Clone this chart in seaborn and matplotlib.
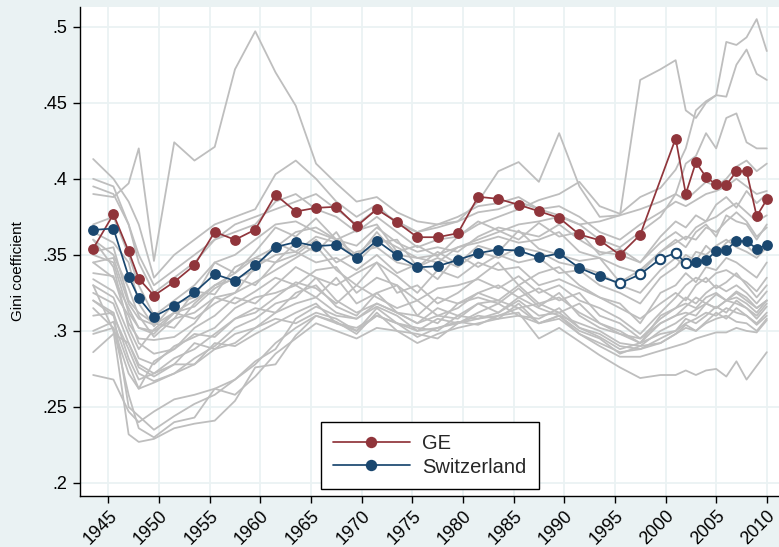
import numpy as np
import pandas as pd
import matplotlib
matplotlib.use("Agg")
import matplotlib.pyplot as plt
from matplotlib.lines import Line2D
import seaborn as sns

# Observation years (tax periods are plotted at their mid-points)
years = [1943.5, 1945.5, 1947, 1948, 1949.5, 1951.5, 1953.5, 1955.5, 1957.5, 1959.5,
         1961.5, 1963.5, 1965.5, 1967.5, 1969.5, 1971.5, 1973.5, 1975.5, 1977.5, 1979.5,
         1981.5, 1983.5, 1985.5, 1987.5, 1989.5, 1991.5, 1993.5, 1995.5, 1997.5, 1999.5,
         2001, 2002, 2003, 2004, 2005, 2006, 2007, 2008, 2009, 2010]

ge = [0.3541, 0.3767, 0.3524, 0.3344, 0.3232, 0.3322, 0.3432, 0.3651, 0.3599, 0.3666,
      0.3895, 0.3785, 0.3809, 0.3816, 0.3688, 0.3800, 0.3714, 0.3616, 0.3616, 0.3642,
      0.3882, 0.3868, 0.3829, 0.3787, 0.3743, 0.3634, 0.3596, 0.3500, 0.3632, None,
      0.4265, 0.3901, 0.4109, 0.4011, 0.3963, 0.3958, 0.4050, 0.4050, 0.3754, 0.3864]

switzerland = [0.3664, 0.3673, 0.3357, 0.3217, 0.3094, 0.3164, 0.3253, 0.3373, 0.3329, 0.3430,
               0.3551, 0.3584, 0.3557, 0.3566, 0.3480, 0.3594, 0.3497, 0.3418, 0.3425, 0.3467,
               0.3511, 0.3535, 0.3528, 0.3483, 0.3509, 0.3414, 0.3359, 0.3313, 0.3372, 0.3474,
               0.3513, 0.3445, 0.3451, 0.3465, 0.3524, 0.3535, 0.3590, 0.3590, 0.3541, 0.3563]

# Years where the national series is interpolated (hollow markers)
ch_interpolated = [1995.5, 1997.5, 1999.5, 2001, 2002]

# Other cantons
cantons = {
    "c01": [0.390, 0.388, 0.397, 0.420, 0.346, 0.424, 0.412, 0.421, 0.472, 0.497,
            0.470, 0.448, 0.410, 0.397, 0.385, 0.388, 0.378, 0.372, 0.370, 0.375,
            0.382, 0.384, 0.388, 0.380, 0.376, 0.370, 0.372, 0.376, 0.380, 0.385,
            0.390, 0.386, 0.392, 0.398, 0.395, 0.400, 0.408, 0.412, 0.405, 0.410],
    "c02": [0.413, 0.400, 0.385, 0.370, 0.335, 0.350, 0.360, 0.370, 0.375, 0.380,
            0.403, 0.412, 0.400, 0.385, 0.375, 0.383, 0.370, 0.365, 0.368, 0.372,
            0.385, 0.405, 0.411, 0.398, 0.430, 0.395, 0.375, 0.376, 0.465, 0.472,
            0.478, 0.445, 0.440, 0.450, 0.455, 0.490, 0.488, 0.493, 0.505, 0.484],
    "c03": [0.395, 0.390, 0.370, 0.345, 0.325, 0.335, 0.345, 0.360, 0.365, 0.370,
            0.385, 0.390, 0.380, 0.375, 0.365, 0.375, 0.365, 0.355, 0.360, 0.362,
            0.370, 0.375, 0.380, 0.386, 0.390, 0.398, 0.382, 0.377, 0.388, 0.394,
            0.406, 0.420, 0.445, 0.451, 0.455, 0.454, 0.475, 0.485, 0.469, 0.465],
    "c04": [0.370, 0.375, 0.350, 0.330, 0.310, 0.320, 0.330, 0.345, 0.350, 0.360,
            0.370, 0.372, 0.365, 0.360, 0.350, 0.362, 0.355, 0.348, 0.350, 0.355,
            0.360, 0.365, 0.370, 0.372, 0.375, 0.370, 0.360, 0.355, 0.365, 0.375,
            0.390, 0.410, 0.415, 0.430, 0.420, 0.440, 0.443, 0.424, 0.420, 0.420],
    "c05": [0.365, 0.358, 0.345, 0.318, 0.303, 0.318, 0.322, 0.345, 0.338, 0.352,
            0.368, 0.362, 0.374, 0.360, 0.366, 0.370, 0.352, 0.356, 0.349, 0.362,
            0.372, 0.366, 0.360, 0.371, 0.362, 0.365, 0.350, 0.354, 0.345, 0.362,
            0.372, 0.368, 0.376, 0.372, 0.383, 0.388, 0.381, 0.392, 0.384, 0.390],
    "c06": [0.360, 0.350, 0.328, 0.310, 0.296, 0.308, 0.326, 0.324, 0.342, 0.348,
            0.345, 0.358, 0.352, 0.365, 0.345, 0.358, 0.360, 0.342, 0.352, 0.344,
            0.356, 0.352, 0.366, 0.354, 0.350, 0.346, 0.348, 0.332, 0.340, 0.352,
            0.360, 0.355, 0.365, 0.370, 0.362, 0.376, 0.372, 0.370, 0.360, 0.370],
    "c07": [0.352, 0.355, 0.320, 0.312, 0.305, 0.302, 0.318, 0.330, 0.334, 0.340,
            0.358, 0.352, 0.345, 0.348, 0.340, 0.350, 0.338, 0.344, 0.334, 0.350,
            0.342, 0.350, 0.345, 0.348, 0.338, 0.340, 0.330, 0.325, 0.318, 0.335,
            0.342, 0.350, 0.346, 0.356, 0.350, 0.358, 0.362, 0.356, 0.350, 0.356],
    "c08": [0.345, 0.335, 0.315, 0.302, 0.298, 0.312, 0.308, 0.318, 0.325, 0.332,
            0.340, 0.348, 0.356, 0.340, 0.330, 0.345, 0.336, 0.325, 0.340, 0.335,
            0.345, 0.340, 0.342, 0.330, 0.334, 0.328, 0.322, 0.318, 0.305, 0.325,
            0.330, 0.338, 0.332, 0.342, 0.340, 0.348, 0.345, 0.340, 0.335, 0.345],
    "c09": [0.338, 0.336, 0.305, 0.295, 0.294, 0.296, 0.305, 0.322, 0.318, 0.326,
            0.335, 0.330, 0.340, 0.342, 0.325, 0.335, 0.330, 0.320, 0.328, 0.330,
            0.334, 0.328, 0.336, 0.325, 0.330, 0.320, 0.315, 0.308, 0.298, 0.312,
            0.322, 0.330, 0.335, 0.332, 0.338, 0.340, 0.336, 0.332, 0.326, 0.335],
    "c10": [0.334, 0.326, 0.310, 0.292, 0.285, 0.288, 0.302, 0.310, 0.322, 0.318,
            0.330, 0.342, 0.335, 0.330, 0.338, 0.345, 0.325, 0.330, 0.318, 0.325,
            0.335, 0.345, 0.330, 0.338, 0.342, 0.330, 0.322, 0.315, 0.308, 0.318,
            0.325, 0.320, 0.330, 0.335, 0.328, 0.332, 0.338, 0.330, 0.322, 0.330],
    "c11": [0.330, 0.322, 0.298, 0.282, 0.278, 0.290, 0.296, 0.302, 0.315, 0.322,
            0.325, 0.330, 0.322, 0.335, 0.318, 0.325, 0.330, 0.310, 0.322, 0.318,
            0.325, 0.330, 0.322, 0.328, 0.320, 0.325, 0.310, 0.305, 0.295, 0.308,
            0.315, 0.322, 0.318, 0.325, 0.330, 0.326, 0.330, 0.325, 0.318, 0.326],
    "c12": [0.325, 0.318, 0.292, 0.278, 0.272, 0.282, 0.288, 0.298, 0.308, 0.312,
            0.322, 0.332, 0.328, 0.318, 0.330, 0.322, 0.315, 0.320, 0.310, 0.315,
            0.325, 0.320, 0.330, 0.318, 0.312, 0.318, 0.305, 0.300, 0.292, 0.305,
            0.310, 0.316, 0.322, 0.318, 0.324, 0.320, 0.326, 0.322, 0.315, 0.320],
    "c13": [0.320, 0.310, 0.288, 0.272, 0.267, 0.272, 0.282, 0.290, 0.302, 0.308,
            0.318, 0.322, 0.335, 0.320, 0.312, 0.318, 0.312, 0.305, 0.315, 0.310,
            0.318, 0.312, 0.322, 0.315, 0.310, 0.305, 0.300, 0.292, 0.290, 0.300,
            0.305, 0.310, 0.314, 0.318, 0.315, 0.320, 0.318, 0.315, 0.310, 0.318],
    "c14": [0.310, 0.312, 0.282, 0.268, 0.272, 0.278, 0.292, 0.288, 0.298, 0.302,
            0.312, 0.318, 0.322, 0.312, 0.308, 0.316, 0.310, 0.300, 0.308, 0.305,
            0.312, 0.318, 0.310, 0.308, 0.315, 0.302, 0.298, 0.290, 0.288, 0.295,
            0.300, 0.305, 0.308, 0.312, 0.310, 0.315, 0.312, 0.310, 0.305, 0.312],
    "c15": [0.300, 0.306, 0.278, 0.262, 0.266, 0.272, 0.278, 0.292, 0.290, 0.298,
            0.305, 0.312, 0.318, 0.305, 0.302, 0.310, 0.305, 0.296, 0.302, 0.306,
            0.304, 0.310, 0.315, 0.305, 0.310, 0.300, 0.295, 0.285, 0.290, 0.292,
            0.298, 0.302, 0.300, 0.305, 0.308, 0.310, 0.306, 0.305, 0.300, 0.308],
    "c16": [0.298, 0.302, 0.272, 0.262, 0.280, 0.288, 0.298, 0.296, 0.308, 0.315,
            0.312, 0.325, 0.330, 0.316, 0.310, 0.325, 0.312, 0.310, 0.305, 0.318,
            0.322, 0.318, 0.328, 0.316, 0.325, 0.310, 0.302, 0.298, 0.292, 0.310,
            0.315, 0.318, 0.315, 0.322, 0.325, 0.320, 0.325, 0.320, 0.315, 0.320],
    "c17": [0.286, 0.298, 0.292, 0.276, 0.270, 0.278, 0.278, 0.288, 0.292, 0.302,
            0.308, 0.305, 0.312, 0.308, 0.300, 0.315, 0.305, 0.302, 0.300, 0.310,
            0.308, 0.312, 0.320, 0.310, 0.312, 0.302, 0.296, 0.288, 0.292, 0.298,
            0.300, 0.308, 0.305, 0.310, 0.316, 0.312, 0.320, 0.315, 0.308, 0.316],
    "c18": [0.271, 0.268, 0.247, 0.240, 0.247, 0.255, 0.258, 0.262, 0.258, 0.270,
            0.285, 0.295, 0.305, 0.300, 0.295, 0.302, 0.300, 0.292, 0.298, 0.302,
            0.305, 0.308, 0.310, 0.305, 0.308, 0.298, 0.290, 0.283, 0.283, 0.287,
            0.290, 0.292, 0.295, 0.297, 0.299, 0.299, 0.302, 0.300, 0.299, 0.307],
    "c19": [0.330, 0.300, 0.232, 0.227, 0.229, 0.236, 0.239, 0.241, 0.254, 0.276,
            0.278, 0.297, 0.310, 0.305, 0.300, 0.310, 0.305, 0.300, 0.302, 0.305,
            0.308, 0.310, 0.312, 0.295, 0.302, 0.293, 0.284, 0.276, 0.269, 0.271,
            0.271, 0.274, 0.271, 0.274, 0.275, 0.270, 0.280, 0.268, 0.277, 0.286],
    "c20": [0.320, 0.312, 0.250, 0.244, 0.235, 0.244, 0.252, 0.258, 0.268, 0.278,
            0.292, 0.302, 0.310, 0.306, 0.298, 0.312, 0.300, 0.298, 0.295, 0.305,
            0.310, 0.308, 0.318, 0.305, 0.310, 0.298, 0.292, 0.286, 0.288, 0.292,
            0.298, 0.304, 0.300, 0.306, 0.312, 0.308, 0.315, 0.310, 0.304, 0.310],
    "c21": [0.315, 0.302, 0.258, 0.236, 0.230, 0.240, 0.243, 0.262, 0.268, 0.280,
            0.288, 0.308, 0.316, 0.310, 0.308, 0.318, 0.312, 0.305, 0.310, 0.308,
            0.318, 0.320, 0.315, 0.318, 0.322, 0.312, 0.305, 0.298, 0.295, 0.305,
            0.310, 0.312, 0.310, 0.318, 0.315, 0.320, 0.322, 0.318, 0.312, 0.320],
    "c22": [0.360, 0.342, 0.302, 0.288, 0.301, 0.312, 0.316, 0.328, 0.335, 0.330,
            0.345, 0.350, 0.360, 0.345, 0.352, 0.355, 0.345, 0.342, 0.348, 0.342,
            0.352, 0.348, 0.355, 0.352, 0.345, 0.342, 0.338, 0.330, 0.325, 0.340,
            0.348, 0.342, 0.352, 0.350, 0.356, 0.360, 0.355, 0.352, 0.348, 0.355],
    "c23": [0.350, 0.345, 0.312, 0.302, 0.300, 0.308, 0.312, 0.322, 0.325, 0.342,
            0.350, 0.352, 0.362, 0.358, 0.348, 0.365, 0.350, 0.348, 0.345, 0.355,
            0.358, 0.362, 0.358, 0.360, 0.365, 0.352, 0.348, 0.342, 0.338, 0.352,
            0.358, 0.362, 0.360, 0.368, 0.365, 0.372, 0.378, 0.372, 0.362, 0.368],
    "c24": [0.345, 0.348, 0.318, 0.308, 0.304, 0.312, 0.320, 0.330, 0.338, 0.348,
            0.355, 0.365, 0.368, 0.360, 0.356, 0.368, 0.358, 0.352, 0.355, 0.352,
            0.362, 0.368, 0.365, 0.362, 0.370, 0.360, 0.352, 0.350, 0.345, 0.358,
            0.365, 0.360, 0.368, 0.372, 0.375, 0.380, 0.384, 0.378, 0.372, 0.376],
    "c25": [0.400, 0.395, 0.370, 0.350, 0.330, 0.340, 0.350, 0.360, 0.370, 0.375,
            0.380, 0.385, 0.390, 0.380, 0.370, 0.380, 0.372, 0.365, 0.370, 0.372,
            0.378, 0.380, 0.385, 0.380, 0.382, 0.375, 0.365, 0.360, 0.370, 0.378,
            0.385, 0.382, 0.386, 0.390, 0.392, 0.395, 0.400, 0.395, 0.390, 0.392],
}

y_ticks = [0.2, 0.25, 0.3, 0.35, 0.4, 0.45, 0.5]
y_tick_labels = [".2", ".25", ".3", ".35", ".4", ".45", ".5"]
x_ticks = list(range(1945, 2011, 5))

BG = "#EAF2F3"
RED = "#90353B"
NAVY = "#1A476F"
GRAY = "#BEBEBE"

sns.set_style("white")
plt.rcParams["font.family"] = ["Liberation Sans", "DejaVu Sans"]

W, H = 779, 547
fig = plt.figure(figsize=(W / 100, H / 100), dpi=100, facecolor=BG)
ax = fig.add_axes([80 / W, 51 / H, (W - 80) / W, (496 - 6.7) / H])
ax.set_facecolor("white")

# Background cantons
long = pd.DataFrame(
    [(k, yr, v) for k, vals in cantons.items() for yr, v in zip(years, vals)],
    columns=["canton", "year", "gini"],
)
sns.lineplot(data=long, x="year", y="gini", units="canton", estimator=None,
             color=GRAY, linewidth=1.3, legend=False, ax=ax, zorder=2)

# Geneva
ge_df = pd.DataFrame({"year": years, "gini": ge}).dropna()
sns.lineplot(data=ge_df, x="year", y="gini", color=RED, linewidth=1.25,
             marker="o", markersize=7.8, markeredgewidth=0, ax=ax, zorder=4)

# Switzerland
ch_df = pd.DataFrame({"year": years, "gini": switzerland})
sns.lineplot(data=ch_df, x="year", y="gini", color=NAVY, linewidth=1.25,
             marker="o", markersize=7.8, markeredgewidth=0, ax=ax, zorder=5)
hollow = ch_df[ch_df["year"].isin(ch_interpolated)]
sns.scatterplot(data=hollow, x="year", y="gini", s=46, facecolor="white",
                edgecolor=NAVY, linewidth=1.5, ax=ax, zorder=6)

ax.set_xlim(1942.2, 1942.2 + 699 / 10.13)
ax.set_ylim(0.2 - 13 / 1520, 0.5 + 20 / 1520)

ax.set_xticks(x_ticks)
ax.set_xticklabels([str(t) for t in x_ticks], rotation=45, ha="right",
                   va="top", rotation_mode="anchor")
ax.set_yticks(y_ticks)
ax.set_yticklabels(y_tick_labels)
ax.tick_params(axis="both", direction="out", length=5, width=1, color="black",
               labelsize=13, labelcolor="black", left=True, bottom=True)
ax.tick_params(axis="y", pad=4)
ax.tick_params(axis="x", pad=3)

ax.grid(True, color=BG, linewidth=1.3, zorder=0)
ax.set_axisbelow(True)

for side in ["top", "right"]:
    ax.spines[side].set_visible(False)
for side in ["left", "bottom"]:
    ax.spines[side].set_color("black")
    ax.spines[side].set_linewidth(1.0)

ax.set_xlabel("")
ax.set_ylabel("Gini coefficient", fontsize=11, color="black")
ax.yaxis.set_label_coords(-0.079, 0.46)

handles = [
    Line2D([], [], color=RED, linewidth=1.25, marker="o", markersize=8.2,
           markeredgewidth=0, label="GE"),
    Line2D([], [], color=NAVY, linewidth=1.25, marker="o", markersize=8.2,
           markeredgewidth=0, label="Switzerland"),
]
leg = ax.legend(handles=handles, loc="lower left",
                bbox_to_anchor=(320.7 / W, (547 - 489) / H),
                bbox_transform=fig.transFigure, fontsize=14.5,
                handlelength=3.8, handletextpad=0.6, borderpad=0.62,
                labelspacing=0.22, fancybox=False, framealpha=1,
                edgecolor="black", borderaxespad=0)
leg.get_frame().set_linewidth(1.0)
leg.set_zorder(10)

fig.savefig("out.png", dpi=100, facecolor=BG)
